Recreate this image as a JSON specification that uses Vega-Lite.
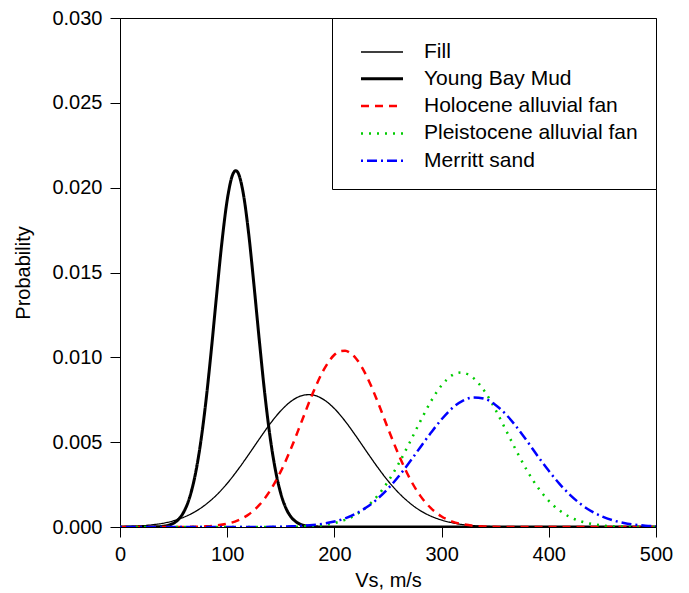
{
  "$schema": "https://vega.github.io/schema/vega-lite/v6.json",
  "width": 536,
  "height": 509,
  "autosize": "none",
  "padding": {"left": 120, "top": 18, "right": 33, "bottom": 66},
  "background": "white",
  "config": {
    "font": "Liberation Sans",
    "view": {"stroke": "black", "strokeWidth": 1},
    "axis": {
      "grid": false,
      "domainColor": "black",
      "tickColor": "black",
      "labelColor": "black",
      "titleColor": "black",
      "labelFontSize": 20,
      "titleFontSize": 20,
      "titleFontWeight": "normal",
      "tickSize": 10,
      "labelFlush": false
    },
    "legend": {
      "title": null,
      "orient": "top-right",
      "offset": 0,
      "strokeColor": "black",
      "fillColor": "white",
      "padding": 18,
      "symbolType": "M-1.4,0H1.4",
      "symbolSize": 900,
      "symbolOffset": 15.5,
      "labelOffset": 25.5,
      "labelFontSize": 21,
      "labelColor": "black",
      "labelLimit": 400,
      "rowPadding": 0.3
    }
  },
  "data": {
    "values": [
      {"s": "Fill", "v": 0, "p": 0.00002},
      {"s": "Fill", "v": 10, "p": 0.00004},
      {"s": "Fill", "v": 20, "p": 0.00007},
      {"s": "Fill", "v": 30, "p": 0.00013},
      {"s": "Fill", "v": 40, "p": 0.00022},
      {"s": "Fill", "v": 50, "p": 0.00037},
      {"s": "Fill", "v": 60, "p": 0.00059},
      {"s": "Fill", "v": 70, "p": 0.0009},
      {"s": "Fill", "v": 80, "p": 0.00133},
      {"s": "Fill", "v": 90, "p": 0.00188},
      {"s": "Fill", "v": 100, "p": 0.00257},
      {"s": "Fill", "v": 110, "p": 0.00338},
      {"s": "Fill", "v": 120, "p": 0.00427},
      {"s": "Fill", "v": 130, "p": 0.00519},
      {"s": "Fill", "v": 140, "p": 0.00608},
      {"s": "Fill", "v": 150, "p": 0.00685},
      {"s": "Fill", "v": 160, "p": 0.00743},
      {"s": "Fill", "v": 170, "p": 0.00775},
      {"s": "Fill", "v": 176, "p": 0.0078},
      {"s": "Fill", "v": 180, "p": 0.00778},
      {"s": "Fill", "v": 190, "p": 0.00751},
      {"s": "Fill", "v": 200, "p": 0.00698},
      {"s": "Fill", "v": 210, "p": 0.00624},
      {"s": "Fill", "v": 220, "p": 0.00537},
      {"s": "Fill", "v": 230, "p": 0.00445},
      {"s": "Fill", "v": 240, "p": 0.00355},
      {"s": "Fill", "v": 250, "p": 0.00272},
      {"s": "Fill", "v": 260, "p": 0.00201},
      {"s": "Fill", "v": 270, "p": 0.00143},
      {"s": "Fill", "v": 280, "p": 0.00097},
      {"s": "Fill", "v": 290, "p": 0.00064},
      {"s": "Fill", "v": 300, "p": 0.00041},
      {"s": "Fill", "v": 310, "p": 0.00025},
      {"s": "Fill", "v": 320, "p": 0.00014},
      {"s": "Fill", "v": 330, "p": 0.00008},
      {"s": "Fill", "v": 340, "p": 0.00004},
      {"s": "Fill", "v": 350, "p": 0.00002},
      {"s": "Fill", "v": 360, "p": 0.00001},
      {"s": "Fill", "v": 380, "p": 0},
      {"s": "Fill", "v": 400, "p": 0},
      {"s": "Fill", "v": 450, "p": 0},
      {"s": "Fill", "v": 500, "p": 0},

      {"s": "Young Bay Mud", "v": 0, "p": 0},
      {"s": "Young Bay Mud", "v": 10, "p": 0},
      {"s": "Young Bay Mud", "v": 20, "p": 0.000001},
      {"s": "Young Bay Mud", "v": 30, "p": 0.000006},
      {"s": "Young Bay Mud", "v": 40, "p": 0.00004},
      {"s": "Young Bay Mud", "v": 45, "p": 0.0001},
      {"s": "Young Bay Mud", "v": 50, "p": 0.00023},
      {"s": "Young Bay Mud", "v": 55, "p": 0.00048},
      {"s": "Young Bay Mud", "v": 60, "p": 0.00095},
      {"s": "Young Bay Mud", "v": 65, "p": 0.00175},
      {"s": "Young Bay Mud", "v": 70, "p": 0.00302},
      {"s": "Young Bay Mud", "v": 75, "p": 0.00487},
      {"s": "Young Bay Mud", "v": 80, "p": 0.00733},
      {"s": "Young Bay Mud", "v": 85, "p": 0.01032},
      {"s": "Young Bay Mud", "v": 90, "p": 0.01359},
      {"s": "Young Bay Mud", "v": 95, "p": 0.01674},
      {"s": "Young Bay Mud", "v": 100, "p": 0.01927},
      {"s": "Young Bay Mud", "v": 105, "p": 0.02075},
      {"s": "Young Bay Mud", "v": 108, "p": 0.021},
      {"s": "Young Bay Mud", "v": 110, "p": 0.02089},
      {"s": "Young Bay Mud", "v": 115, "p": 0.01966},
      {"s": "Young Bay Mud", "v": 120, "p": 0.01731},
      {"s": "Young Bay Mud", "v": 125, "p": 0.01424},
      {"s": "Young Bay Mud", "v": 130, "p": 0.01097},
      {"s": "Young Bay Mud", "v": 135, "p": 0.00789},
      {"s": "Young Bay Mud", "v": 140, "p": 0.00531},
      {"s": "Young Bay Mud", "v": 145, "p": 0.00335},
      {"s": "Young Bay Mud", "v": 150, "p": 0.00197},
      {"s": "Young Bay Mud", "v": 155, "p": 0.00108},
      {"s": "Young Bay Mud", "v": 160, "p": 0.00056},
      {"s": "Young Bay Mud", "v": 165, "p": 0.00027},
      {"s": "Young Bay Mud", "v": 170, "p": 0.00012},
      {"s": "Young Bay Mud", "v": 175, "p": 0.00005},
      {"s": "Young Bay Mud", "v": 180, "p": 0.00002},
      {"s": "Young Bay Mud", "v": 190, "p": 0.000003},
      {"s": "Young Bay Mud", "v": 200, "p": 0},
      {"s": "Young Bay Mud", "v": 300, "p": 0},
      {"s": "Young Bay Mud", "v": 400, "p": 0},
      {"s": "Young Bay Mud", "v": 500, "p": 0},

      {"s": "Holocene alluvial fan", "v": 0, "p": 0},
      {"s": "Holocene alluvial fan", "v": 50, "p": 0.000002},
      {"s": "Holocene alluvial fan", "v": 60, "p": 0.000006},
      {"s": "Holocene alluvial fan", "v": 70, "p": 0.000016},
      {"s": "Holocene alluvial fan", "v": 80, "p": 0.00004},
      {"s": "Holocene alluvial fan", "v": 90, "p": 0.00009},
      {"s": "Holocene alluvial fan", "v": 100, "p": 0.00019},
      {"s": "Holocene alluvial fan", "v": 110, "p": 0.00039},
      {"s": "Holocene alluvial fan", "v": 120, "p": 0.00074},
      {"s": "Holocene alluvial fan", "v": 130, "p": 0.0013},
      {"s": "Holocene alluvial fan", "v": 140, "p": 0.00214},
      {"s": "Holocene alluvial fan", "v": 150, "p": 0.00328},
      {"s": "Holocene alluvial fan", "v": 160, "p": 0.0047},
      {"s": "Holocene alluvial fan", "v": 170, "p": 0.00631},
      {"s": "Holocene alluvial fan", "v": 180, "p": 0.00791},
      {"s": "Holocene alluvial fan", "v": 190, "p": 0.00926},
      {"s": "Holocene alluvial fan", "v": 200, "p": 0.01015},
      {"s": "Holocene alluvial fan", "v": 205, "p": 0.01036},
      {"s": "Holocene alluvial fan", "v": 210, "p": 0.01039},
      {"s": "Holocene alluvial fan", "v": 215, "p": 0.01025},
      {"s": "Holocene alluvial fan", "v": 220, "p": 0.00995},
      {"s": "Holocene alluvial fan", "v": 230, "p": 0.0089},
      {"s": "Holocene alluvial fan", "v": 240, "p": 0.00744},
      {"s": "Holocene alluvial fan", "v": 250, "p": 0.00581},
      {"s": "Holocene alluvial fan", "v": 260, "p": 0.00425},
      {"s": "Holocene alluvial fan", "v": 270, "p": 0.0029},
      {"s": "Holocene alluvial fan", "v": 280, "p": 0.00185},
      {"s": "Holocene alluvial fan", "v": 290, "p": 0.00111},
      {"s": "Holocene alluvial fan", "v": 300, "p": 0.00062},
      {"s": "Holocene alluvial fan", "v": 310, "p": 0.00032},
      {"s": "Holocene alluvial fan", "v": 320, "p": 0.00016},
      {"s": "Holocene alluvial fan", "v": 330, "p": 0.00007},
      {"s": "Holocene alluvial fan", "v": 340, "p": 0.00003},
      {"s": "Holocene alluvial fan", "v": 350, "p": 0.00001},
      {"s": "Holocene alluvial fan", "v": 360, "p": 0},
      {"s": "Holocene alluvial fan", "v": 400, "p": 0},
      {"s": "Holocene alluvial fan", "v": 450, "p": 0},
      {"s": "Holocene alluvial fan", "v": 500, "p": 0},

      {"s": "Pleistocene alluvial fan", "v": 0, "p": 0},
      {"s": "Pleistocene alluvial fan", "v": 100, "p": 0},
      {"s": "Pleistocene alluvial fan", "v": 140, "p": 0.000002},
      {"s": "Pleistocene alluvial fan", "v": 150, "p": 0.000005},
      {"s": "Pleistocene alluvial fan", "v": 160, "p": 0.000012},
      {"s": "Pleistocene alluvial fan", "v": 170, "p": 0.000028},
      {"s": "Pleistocene alluvial fan", "v": 180, "p": 0.00006},
      {"s": "Pleistocene alluvial fan", "v": 190, "p": 0.00012},
      {"s": "Pleistocene alluvial fan", "v": 200, "p": 0.00023},
      {"s": "Pleistocene alluvial fan", "v": 210, "p": 0.00042},
      {"s": "Pleistocene alluvial fan", "v": 220, "p": 0.00072},
      {"s": "Pleistocene alluvial fan", "v": 230, "p": 0.00118},
      {"s": "Pleistocene alluvial fan", "v": 240, "p": 0.00182},
      {"s": "Pleistocene alluvial fan", "v": 250, "p": 0.00268},
      {"s": "Pleistocene alluvial fan", "v": 260, "p": 0.00374},
      {"s": "Pleistocene alluvial fan", "v": 270, "p": 0.00495},
      {"s": "Pleistocene alluvial fan", "v": 280, "p": 0.00621},
      {"s": "Pleistocene alluvial fan", "v": 290, "p": 0.0074},
      {"s": "Pleistocene alluvial fan", "v": 300, "p": 0.00835},
      {"s": "Pleistocene alluvial fan", "v": 310, "p": 0.00895},
      {"s": "Pleistocene alluvial fan", "v": 318, "p": 0.0091},
      {"s": "Pleistocene alluvial fan", "v": 320, "p": 0.00909},
      {"s": "Pleistocene alluvial fan", "v": 330, "p": 0.00876},
      {"s": "Pleistocene alluvial fan", "v": 340, "p": 0.00801},
      {"s": "Pleistocene alluvial fan", "v": 350, "p": 0.00694},
      {"s": "Pleistocene alluvial fan", "v": 360, "p": 0.00571},
      {"s": "Pleistocene alluvial fan", "v": 370, "p": 0.00446},
      {"s": "Pleistocene alluvial fan", "v": 380, "p": 0.0033},
      {"s": "Pleistocene alluvial fan", "v": 390, "p": 0.00231},
      {"s": "Pleistocene alluvial fan", "v": 400, "p": 0.00154},
      {"s": "Pleistocene alluvial fan", "v": 410, "p": 0.00097},
      {"s": "Pleistocene alluvial fan", "v": 420, "p": 0.00058},
      {"s": "Pleistocene alluvial fan", "v": 430, "p": 0.00033},
      {"s": "Pleistocene alluvial fan", "v": 440, "p": 0.00018},
      {"s": "Pleistocene alluvial fan", "v": 450, "p": 0.00009},
      {"s": "Pleistocene alluvial fan", "v": 460, "p": 0.00004},
      {"s": "Pleistocene alluvial fan", "v": 470, "p": 0.00002},
      {"s": "Pleistocene alluvial fan", "v": 480, "p": 0.00001},
      {"s": "Pleistocene alluvial fan", "v": 490, "p": 0.000004},
      {"s": "Pleistocene alluvial fan", "v": 500, "p": 0.000001},

      {"s": "Merritt sand", "v": 0, "p": 0},
      {"s": "Merritt sand", "v": 100, "p": 0},
      {"s": "Merritt sand", "v": 120, "p": 0.000002},
      {"s": "Merritt sand", "v": 140, "p": 0.00001},
      {"s": "Merritt sand", "v": 150, "p": 0.00002},
      {"s": "Merritt sand", "v": 160, "p": 0.00004},
      {"s": "Merritt sand", "v": 170, "p": 0.00007},
      {"s": "Merritt sand", "v": 180, "p": 0.00012},
      {"s": "Merritt sand", "v": 190, "p": 0.0002},
      {"s": "Merritt sand", "v": 200, "p": 0.00032},
      {"s": "Merritt sand", "v": 210, "p": 0.00051},
      {"s": "Merritt sand", "v": 220, "p": 0.00079},
      {"s": "Merritt sand", "v": 230, "p": 0.00116},
      {"s": "Merritt sand", "v": 240, "p": 0.00165},
      {"s": "Merritt sand", "v": 250, "p": 0.00226},
      {"s": "Merritt sand", "v": 260, "p": 0.00299},
      {"s": "Merritt sand", "v": 270, "p": 0.00381},
      {"s": "Merritt sand", "v": 280, "p": 0.00469},
      {"s": "Merritt sand", "v": 290, "p": 0.00555},
      {"s": "Merritt sand", "v": 300, "p": 0.00635},
      {"s": "Merritt sand", "v": 310, "p": 0.00701},
      {"s": "Merritt sand", "v": 320, "p": 0.00745},
      {"s": "Merritt sand", "v": 330, "p": 0.00764},
      {"s": "Merritt sand", "v": 340, "p": 0.00756},
      {"s": "Merritt sand", "v": 350, "p": 0.00721},
      {"s": "Merritt sand", "v": 360, "p": 0.00664},
      {"s": "Merritt sand", "v": 370, "p": 0.00589},
      {"s": "Merritt sand", "v": 380, "p": 0.00504},
      {"s": "Merritt sand", "v": 390, "p": 0.00415},
      {"s": "Merritt sand", "v": 400, "p": 0.00331},
      {"s": "Merritt sand", "v": 410, "p": 0.00254},
      {"s": "Merritt sand", "v": 420, "p": 0.00188},
      {"s": "Merritt sand", "v": 430, "p": 0.00134},
      {"s": "Merritt sand", "v": 440, "p": 0.00092},
      {"s": "Merritt sand", "v": 450, "p": 0.00061},
      {"s": "Merritt sand", "v": 460, "p": 0.00039},
      {"s": "Merritt sand", "v": 470, "p": 0.00024},
      {"s": "Merritt sand", "v": 480, "p": 0.00014},
      {"s": "Merritt sand", "v": 490, "p": 0.00008},
      {"s": "Merritt sand", "v": 500, "p": 0.00005}
    ]
  },
  "mark": {"type": "line", "interpolate": "monotone", "clip": true},
  "encoding": {
    "x": {
      "field": "v",
      "type": "quantitative",
      "scale": {"domain": [0, 500], "nice": false},
      "axis": {"title": "Vs, m/s", "values": [0, 100, 200, 300, 400, 500], "labelPadding": 7, "titlePadding": 6}
    },
    "y": {
      "field": "p",
      "type": "quantitative",
      "scale": {"domain": [0, 0.03], "nice": false, "zero": true},
      "axis": {"title": "Probability", "values": [0, 0.005, 0.01, 0.015, 0.02, 0.025, 0.03], "format": ".3f", "labelPadding": 8, "titlePadding": 18}
    },
    "color": {
      "field": "s",
      "type": "nominal",
      "sort": null,
      "scale": {
        "domain": ["Fill", "Young Bay Mud", "Holocene alluvial fan", "Pleistocene alluvial fan", "Merritt sand"],
        "range": ["#000000", "#000000", "#ff0000", "#00cc00", "#0000ff"]
      },
      "legend": {"title": null}
    },
    "strokeDash": {
      "field": "s",
      "type": "nominal",
      "sort": null,
      "scale": {
        "domain": ["Fill", "Young Bay Mud", "Holocene alluvial fan", "Pleistocene alluvial fan", "Merritt sand"],
        "range": [[1, 0], [1, 0], [8, 6], [2, 6], [2, 4, 10, 4]]
      },
      "legend": {"title": null}
    },
    "strokeWidth": {
      "field": "s",
      "type": "nominal",
      "sort": null,
      "scale": {
        "type": "ordinal",
        "domain": ["Fill", "Young Bay Mud", "Holocene alluvial fan", "Pleistocene alluvial fan", "Merritt sand"],
        "range": [1.3, 3, 2.5, 2.5, 2.5]
      },
      "legend": {"title": null}
    }
  }
}
